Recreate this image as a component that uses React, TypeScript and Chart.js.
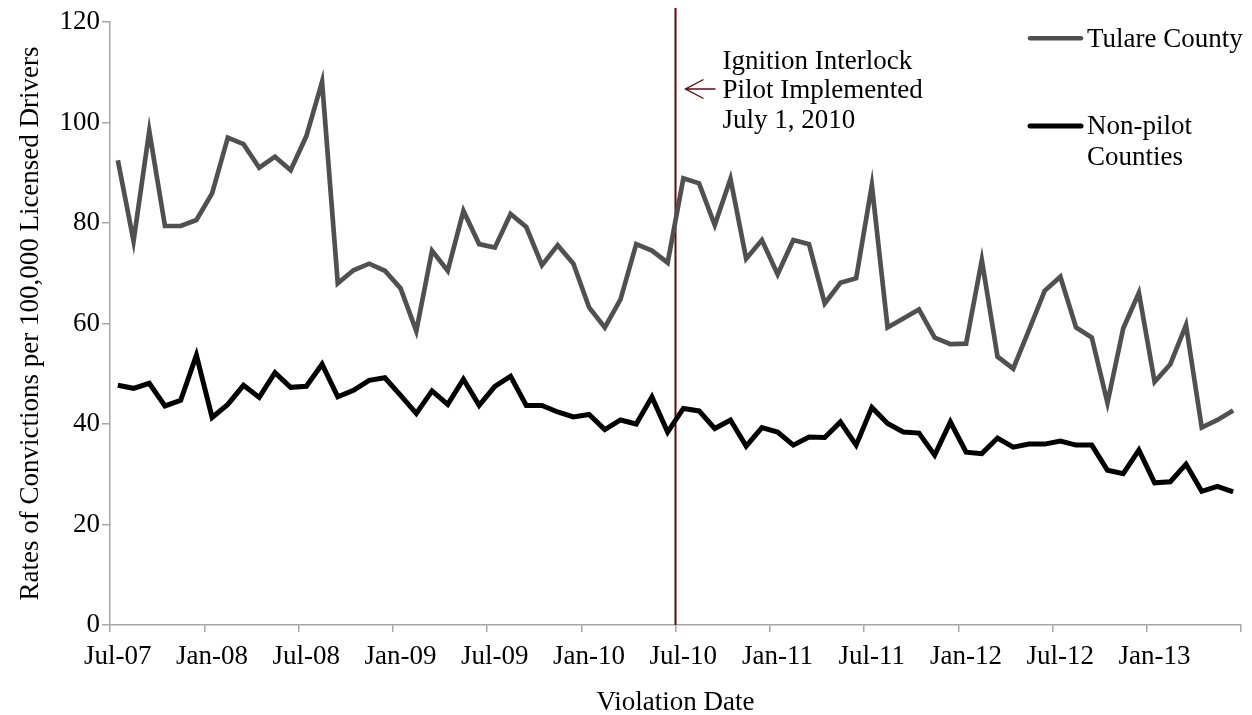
import React, { useEffect, useRef } from "react";
import { Chart, registerables } from "chart.js";

Chart.register(...registerables);

const months: string[] = [
  "Jul-07", "Aug-07", "Sep-07", "Oct-07", "Nov-07", "Dec-07",
  "Jan-08", "Feb-08", "Mar-08", "Apr-08", "May-08", "Jun-08", "Jul-08", "Aug-08", "Sep-08", "Oct-08", "Nov-08", "Dec-08",
  "Jan-09", "Feb-09", "Mar-09", "Apr-09", "May-09", "Jun-09", "Jul-09", "Aug-09", "Sep-09", "Oct-09", "Nov-09", "Dec-09",
  "Jan-10", "Feb-10", "Mar-10", "Apr-10", "May-10", "Jun-10", "Jul-10", "Aug-10", "Sep-10", "Oct-10", "Nov-10", "Dec-10",
  "Jan-11", "Feb-11", "Mar-11", "Apr-11", "May-11", "Jun-11", "Jul-11", "Aug-11", "Sep-11", "Oct-11", "Nov-11", "Dec-11",
  "Jan-12", "Feb-12", "Mar-12", "Apr-12", "May-12", "Jun-12", "Jul-12", "Aug-12", "Sep-12", "Oct-12", "Nov-12", "Dec-12",
  "Jan-13", "Feb-13", "Mar-13", "Apr-13", "May-13", "Jun-13",
];

const tulare: number[] = [
  92.5, 76.4, 98.3, 79.4, 79.4, 80.6, 85.9, 97.0, 95.7, 91.0,
  93.2, 90.5, 97.3, 108.1, 68.0, 70.6, 71.9, 70.5, 67.0, 58.5,
  74.5, 70.5, 82.4, 75.8, 75.1, 81.8, 79.2, 71.6, 75.6, 71.9,
  63.2, 59.2, 64.8, 75.8, 74.5, 72.1, 88.9, 87.9, 79.6, 88.8,
  72.9, 76.6, 69.8, 76.6, 75.8, 64.0, 68.1, 69.0, 87.5, 59.2,
  61.0, 62.8, 57.2, 55.9, 56.0, 72.6, 53.4, 51.0, 58.7, 66.5,
  69.3, 59.2, 57.2, 44.2, 59.0, 66.1, 48.4, 51.9, 59.7, 39.3,
  40.8, 42.7,
];

const nonPilot: number[] = [
  47.7, 47.1, 48.1, 43.6, 44.7, 53.7, 41.3, 43.9, 47.7, 45.3,
  50.2, 47.3, 47.5, 51.9, 45.4, 46.7, 48.7, 49.2, 45.7, 42.1,
  46.6, 43.9, 48.9, 43.7, 47.5, 49.5, 43.7, 43.7, 42.4, 41.4,
  41.9, 38.9, 40.8, 40.0, 45.4, 38.4, 43.1, 42.6, 39.1, 40.8,
  35.6, 39.3, 38.4, 35.8, 37.4, 37.3, 40.4, 35.8, 43.3, 40.1,
  38.4, 38.2, 33.8, 40.4, 34.4, 34.1, 37.2, 35.4, 36.0, 36.0,
  36.6, 35.8, 35.8, 30.8, 30.1, 34.8, 28.3, 28.5, 32.0, 26.6,
  27.6, 26.5,
];

const seriesNames = ["Tulare County", ["Non-pilot", "Counties"]];
const annotationLines = ["Ignition Interlock", "Pilot Implemented", "July 1, 2010"];
const pilotMonth = "Jul-10";
const labelEvery = 6;

const FONT = "'Liberation Serif', 'Times New Roman', serif";
const FS = 27;
const AXIS = "#a6a6a6";
const GRAY = "#505050";
const RED = "#5c0a0a";

export default function App() {
  const ref = useRef<HTMLCanvasElement | null>(null);

  useEffect(() => {
    if (!ref.current) return;
    const overlay = {
      id: "overlay",
      beforeDatasetsDraw(chart: any) {
        const ctx = chart.ctx;
        const xs = chart.scales.x;
        const idx = months.indexOf(pilotMonth);
        const xv = (xs.getPixelForValue(idx - 1) + xs.getPixelForValue(idx)) / 2;
        ctx.save();
        ctx.strokeStyle = RED;
        ctx.lineWidth = 2;
        ctx.beginPath();
        ctx.moveTo(xv, 8);
        ctx.lineTo(xv, chart.chartArea.bottom);
        ctx.stroke();
        ctx.restore();
      },
      afterDraw(chart: any) {
        const ctx = chart.ctx;
        const xs = chart.scales.x;
        const idx = months.indexOf(pilotMonth);
        const xv = (xs.getPixelForValue(idx - 1) + xs.getPixelForValue(idx)) / 2;
        ctx.save();
        // arrow
        ctx.strokeStyle = RED;
        ctx.lineWidth = 1.4;
        ctx.beginPath();
        ctx.moveTo(xv + 40, 89);
        ctx.lineTo(xv + 10, 89);
        ctx.moveTo(xv + 28, 79.5);
        ctx.lineTo(xv + 10, 89);
        ctx.lineTo(xv + 28, 98.5);
        ctx.stroke();
        // annotation text
        ctx.fillStyle = "#000";
        ctx.font = `${FS}px ${FONT}`;
        ctx.textBaseline = "alphabetic";
        ctx.textAlign = "left";
        annotationLines.forEach((t, i) => ctx.fillText(t, xv + 47, 68.6 + i * 29.7));
        // legend
        const colors = [GRAY, "#000"];
        const widths = [4.5, 5];
        const lineY = [38.3, 126];
        const baseY = [46.7, 134];
        seriesNames.forEach((name, i) => {
          ctx.strokeStyle = colors[i];
          ctx.lineWidth = widths[i];
          ctx.lineCap = "round";
          ctx.beginPath();
          ctx.moveTo(1030, lineY[i]);
          ctx.lineTo(1081, lineY[i]);
          ctx.stroke();
          const parts = Array.isArray(name) ? name : [name];
          parts.forEach((p, j) => ctx.fillText(p, 1087, baseY[i] + j * 31));
        });
        ctx.restore();
      },
    };

    const chart = new Chart(ref.current, {
      type: "line",
      data: {
        labels: months,
        datasets: [
          {
            label: "Tulare County",
            data: tulare,
            borderColor: GRAY,
            borderWidth: 4.7,
            pointRadius: 0,
            tension: 0,
            fill: false,
          },
          {
            label: "Non-pilot Counties",
            data: nonPilot,
            borderColor: "#000",
            borderWidth: 5,
            pointRadius: 0,
            tension: 0,
            fill: false,
          },
        ],
      },
      options: {
        responsive: false,
        animation: false,
        devicePixelRatio: 1,
        layout: { padding: { top: 22, right: 11, left: 0, bottom: 0 } },
        plugins: { legend: { display: false }, tooltip: { enabled: false } },
        scales: {
          x: {
            type: "category",
            offset: true,
            afterFit: (s: any) => { s.height = 90; },
            grid: {
              offset: true,
              drawOnChartArea: false,
              tickLength: 7,
              lineWidth: 1.5,
              color: (c: any) => (c.index === undefined || c.index % labelEvery === 0 ? AXIS : "rgba(0,0,0,0)"),
            },
            border: { display: true, color: AXIS, width: 1.5 },
            ticks: {
              autoSkip: false,
              maxRotation: 0,
              minRotation: 0,
              padding: 9,
              color: "#000",
              font: { family: FONT, size: FS },
              callback: (_v: any, i: number) => (i % labelEvery === 0 ? months[i] : ""),
            },
            title: {
              display: true,
              text: "Violation Date",
              color: "#000",
              font: { family: FONT, size: FS, lineHeight: 1 },
              padding: { top: 0, bottom: -1.5 },
            },
          },
          y: {
            min: 0,
            max: 120,
            afterFit: (s: any) => { s.width = 110; },
            grid: { drawOnChartArea: false, tickLength: 8, color: AXIS, lineWidth: 1.5 },
            border: { display: true, color: AXIS, width: 1.5 },
            ticks: {
              stepSize: 20,
              padding: 2,
              color: "#000",
              font: { family: FONT, size: FS },
            },
            title: {
              display: true,
              text: "Rates of Convictions per 100,000 Licensed Drivers",
              color: "#000",
              font: { family: FONT, size: FS, lineHeight: 1 },
              padding: { top: 17, bottom: 0 },
            },
          },
        },
      },
      plugins: [overlay],
    });
    return () => chart.destroy();
  }, []);

  return (
    <div style={{ position: "absolute", left: 0, top: 0, width: 1252, height: 715, background: "#fff" }}>
      <canvas ref={ref} width={1252} height={715} />
    </div>
  );
}
